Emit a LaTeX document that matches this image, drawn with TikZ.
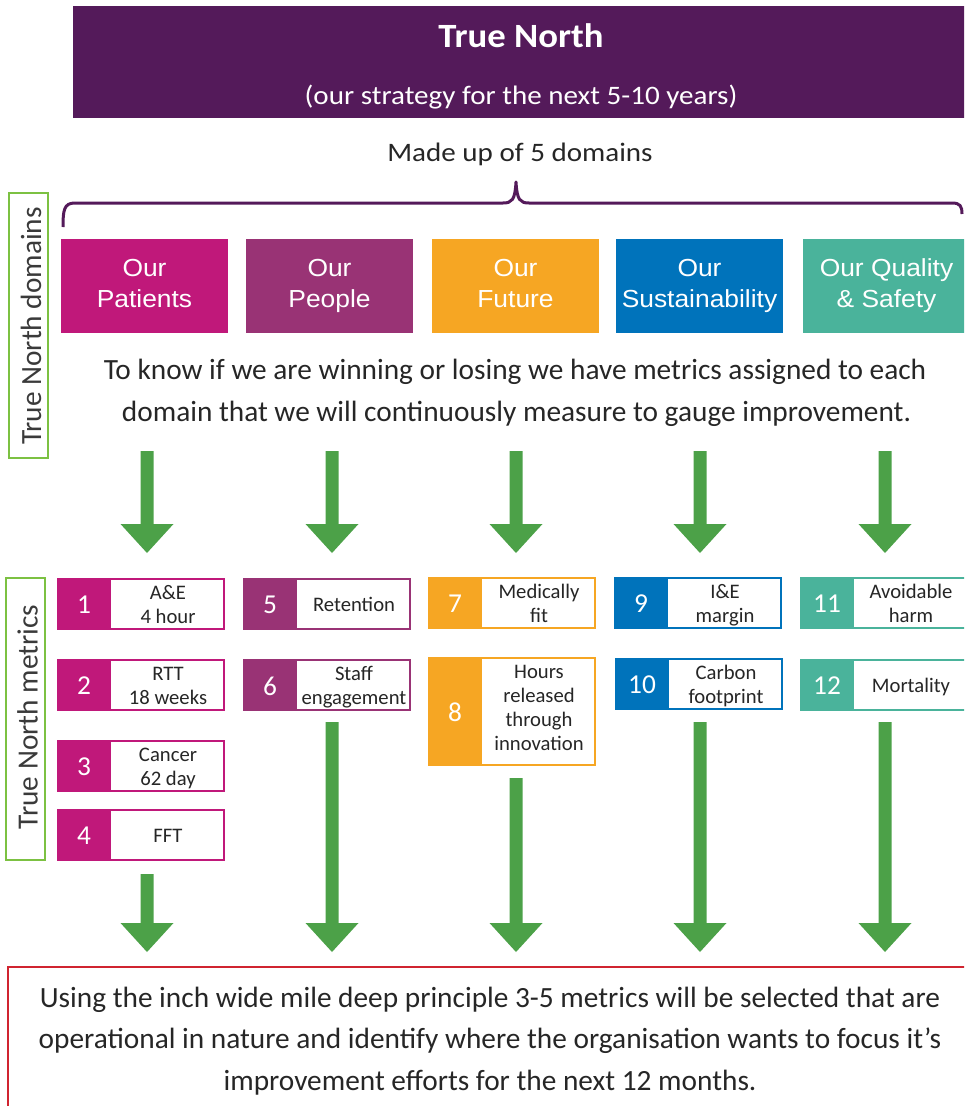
\documentclass[tikz,border=0pt]{standalone}
\usepackage{fontspec}
\setmainfont{Carlito}
\newfontfamily\arialf[FakeStretch=1.07]{Liberation Sans}
\newfontfamily\headf[FakeStretch=1.09]{Carlito}
\newfontfamily\titlef[FakeStretch=1.08]{Carlito}
\usetikzlibrary{calc}
\definecolor{tnpurple}{HTML}{541A5A}
\definecolor{tnmagenta}{HTML}{C0187A}
\definecolor{tnpeople}{HTML}{993375}
\definecolor{tnorange}{HTML}{F6A623}
\definecolor{tnblue}{HTML}{0073BB}
\definecolor{tnteal}{HTML}{4AB39B}
\definecolor{tngreen}{HTML}{4CA148}
\definecolor{tnlgreen}{HTML}{7CC142}
\definecolor{tnred}{HTML}{D02430}
\definecolor{tntext}{HTML}{262626}
\definecolor{tnside}{HTML}{3A3A3A}
\newcommand\metricbox[8]{%
  \node[mframe=#2, minimum height=#5] (#1) at (#3,#4) {};
  \fill[#2] (#1.north west) rectangle ($(#1.south west)+(53,0)$);
  \node[mnum] (#1n) at ($(#1.west)+(26,1)$) {#6};
  \node[mtext] (#1t) at ($(#1.west)+(110,#8)$) {#7};
}
\newcommand\garrow[2]{%
  \fill[tngreen] ($(#1)+(-6.5,0)$) -- ($(#1)+(6.5,0)$) -- ($(#2)+(6.5,-29)$) -- ($(#2)+(26.5,-29)$)
    -- (#2) -- ($(#2)+(-26.5,-29)$) -- ($(#2)+(-6.5,-29)$) -- cycle;
}
\begin{document}
\begin{tikzpicture}[x=0.75pt,y=-0.75pt,
  every node/.style={inner sep=0pt, outer sep=0pt},
  dombox/.style={fill=#1, minimum width=125.25pt, minimum height=70.5pt, text=white, align=center,
    font=\arialf\fontsize{18.5}{23.25}\selectfont},
  mframe/.style={draw=#1, line width=1.5pt, fill=white, minimum width=124.5pt},
  mnum/.style={text=white, font=\fontsize{20.5}{24}\selectfont},
  mtext/.style={text=tntext, align=center, font=\fontsize{15.5}{18}\selectfont},
  sidebox/.style={draw=tnlgreen, line width=1.8pt, minimum width=29.25pt},
  sidetext/.style={rotate=90, text=tnside, font=\fontsize{22}{26}\selectfont},
  bodytext/.style={anchor=base, text=tntext, font=\fontsize{22}{26}\selectfont},
]
\useasboundingbox (0,0) rectangle (964,1106);
\clip (0,0) rectangle (964,1106);

% header
\node[fill=tnpurple, minimum width=676.5pt, minimum height=84pt] (hdr) at (524,62) {};
\node[anchor=base, text=white, font=\titlef\bfseries\fontsize{25.5}{30}\selectfont] (title) at (521,48) {True North};
\node[anchor=base, text=white, font=\headf\fontsize{20}{24}\selectfont] (sub) at (521,104) {(our strategy for the next 5-10 years)};
\node[anchor=base, text=tntext, font=\headf\fontsize{20}{24}\selectfont] (made) at (520,161) {Made up of 5 domains};

% brace
\draw[tnpurple, line width=2.25pt, line join=round]
  (63,227) .. controls (63,210) and (64,203) .. (75,203) -- (503,203)
  .. controls (512,203) and (515,200) .. (516,182)
  .. controls (517,200) and (520,203) .. (529,203) -- (952,203)
  .. controls (960,203) and (962,206) .. (962,214);

% side labels
\node[sidebox, minimum height=198.75pt] (sd1) at (28.5,325.5) {};
\node[sidetext] (sd1t) at (31,326) {True North domains};
\node[sidebox, minimum height=211.5pt] (sd2) at (25.5,719) {};
\node[sidetext] (sd2t) at (27.5,717) {True North metrics};

% domains
\node[dombox=tnmagenta] (d1) at (144.5,286) {\strut Our\\\strut Patients};
\node[dombox=tnpeople] (d2) at (329.5,286) {\strut Our\\\strut People};
\node[dombox=tnorange] (d3) at (515.5,286) {\strut Our\\\strut Future};
\node[dombox=tnblue] (d4) at (699.5,286) {\strut Our\\\strut Sustainability};
\node[dombox=tnteal] (d5) at (886.5,286) {\strut Our Quality\\\strut \& Safety};

% body text
\node[bodytext] (body1) at (515,379) {To know if we are winning or losing we have metrics assigned to each};
\node[bodytext] (body2) at (516.5,421) {domain that we will continuously measure to gauge improvement.};

% top arrows
\foreach \i/\x in {1/147,2/332,3/516,4/700,5/885}{
  \coordinate (ta\i) at (\x,451);
  \coordinate (tb\i) at (\x,553);
  \garrow{ta\i}{tb\i}
}

% metrics
\metricbox{m1}{tnmagenta}{141}{604}{37.5pt}{1}{\strut A\&E\\\strut 4 hour}{3}
\metricbox{m2}{tnmagenta}{141}{685}{37.5pt}{2}{\strut RTT\\\strut 18 weeks}{3}
\metricbox{m3}{tnmagenta}{141}{766}{37.5pt}{3}{\strut Cancer\\\strut 62 day}{3}
\metricbox{m4}{tnmagenta}{141}{835}{37.5pt}{4}{\strut FFT}{3}
\metricbox{m5}{tnpeople}{327}{604}{37.5pt}{5}{\strut Retention}{3}
\metricbox{m6}{tnpeople}{327}{685}{37.5pt}{6}{\strut Staff\\\strut engagement}{3}
\metricbox{m7}{tnorange}{512}{603}{37.5pt}{7}{\strut Medically\\\strut fit}{3}
\metricbox{m8}{tnorange}{512}{711.5}{80.25pt}{8}{\strut Hours\\\strut released\\\strut through\\\strut innovation}{-2}
\metricbox{m9}{tnblue}{698}{603}{37.5pt}{9}{\strut I\&E\\\strut margin}{3}
\metricbox{m10}{tnblue}{699}{684}{37.5pt}{10}{\strut Carbon\\\strut footprint}{3}
\metricbox{m11}{tnteal}{884}{603}{37.5pt}{11}{\strut Avoidable\\\strut harm}{3}
\metricbox{m12}{tnteal}{884}{685}{37.5pt}{12}{\strut Mortality}{3}

% bottom arrows
\foreach \i/\x/\y in {1/147/874,2/332/722,3/516/778,4/700/722,5/885/722}{
  \coordinate (ba\i) at (\x,\y);
  \coordinate (bb\i) at (\x,952);
  \garrow{ba\i}{bb\i}
}

% bottom box
\node[draw=tnred, line width=1.5pt, minimum width=729pt, minimum height=114.75pt, anchor=north west] (bottom) at (8,967) {};
\node[bodytext] (bt1) at (490,1007) {Using the inch wide mile deep principle 3-5 metrics will be selected that are};
\node[bodytext] (bt2) at (490,1048) {operational in nature and identify where the organisation wants to focus it’s};
\node[bodytext] (bt3) at (490,1090) {improvement efforts for the next 12 months.};
\end{tikzpicture}
\end{document}
